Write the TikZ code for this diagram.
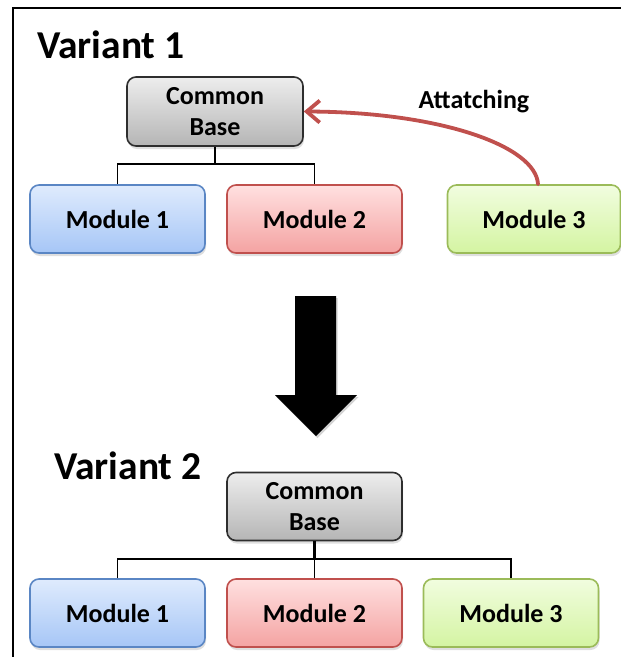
\documentclass[tikz,border=0pt]{standalone}
\usepackage{fontspec}
\setmainfont{Carlito}
\usetikzlibrary{arrows.meta,shadows,calc}

\definecolor{baseTop}{HTML}{EDEDED}
\definecolor{baseBot}{HTML}{B5B5B5}
\definecolor{baseLine}{HTML}{2E2E2E}
\definecolor{blueTop}{HTML}{DFEBFD}
\definecolor{blueBot}{HTML}{A6C6F6}
\definecolor{blueLine}{HTML}{5A86C4}
\definecolor{redTop}{HTML}{FFE0E0}
\definecolor{redBot}{HTML}{F4A3A2}
\definecolor{redLine}{HTML}{C0504D}
\definecolor{greenTop}{HTML}{F1FDDF}
\definecolor{greenBot}{HTML}{D4F4A2}
\definecolor{greenLine}{HTML}{9BBB59}
\definecolor{attach}{HTML}{C0504D}

\tikzset{
  boxbase/.style={rounded corners=9pt, minimum width=175pt, minimum height=68pt,
    line width=1.6pt, align=center, inner sep=0pt,
    font=\fontsize{26}{31}\selectfont\bfseries,
    drop shadow={shadow xshift=1pt, shadow yshift=-3pt, opacity=0.25}},
  commonbox/.style={boxbase, draw=baseLine, top color=baseTop, bottom color=baseBot},
  bluebox/.style={boxbase, draw=blueLine, top color=blueTop, bottom color=blueBot},
  redbox/.style={boxbase, draw=redLine, top color=redTop, bottom color=redBot},
  greenbox/.style={boxbase, draw=greenLine, top color=greenTop, bottom color=greenBot},
  title/.style={anchor=base west, inner sep=0pt, font=\fontsize{39.5}{46}\selectfont\bfseries},
  tree/.style={line width=1.4pt, black},
}

\begin{document}
\begin{tikzpicture}[x=1pt, y=-1pt]
  \useasboundingbox (0,0) rectangle (621,657);
  % frame
  \draw[line width=2pt] (12.5,657) -- (12.5,8) -- (621,8);

  % ---- Variant 1 ----
  \node[title] (t1) at (37,58) {Variant 1};
  \node[commonbox, minimum width=176pt, minimum height=69pt] (cb1) at (215,111.5) {Common\\Base};
  \node[bluebox]  (m11) at (117.5,219) {Module 1};
  \node[redbox]   (m12) at (314.5,219) {Module 2};
  \node[greenbox, minimum width=173pt] (m13) at (534,219) {Module 3};
  \coordinate (j1) at (215,164);
  \draw[tree] (cb1.south) -- (j1);
  \draw[tree] (m11.north) |- (j1) -| (m12.north);

  % attaching arrow
  \draw[attach, line width=3.8pt, line cap=round,
        -{Straight Barb[length=13pt, width=22pt, line width=3.8pt]}]
    (m13.north -| 538,0) .. controls (536,146) and (440,112) .. (cb1.east);
  \node[inner sep=0pt, anchor=base, font=\fontsize{26}{31}\selectfont\bfseries] (lbl) at (474,108) {Attatching};

  % ---- transition arrow ----
  \fill[black, drop shadow={shadow xshift=1.5pt, shadow yshift=-2pt, opacity=0.35}]
    (295,296) -- (336,296) -- (336,395) -- (357,395) -- (316,436) -- (275,395) -- (295,395) -- cycle;

  % ---- Variant 2 ----
  \node[title] (t2) at (54,479) {Variant 2};
  \node[commonbox] (cb2) at (314.5,506.5) {Common\\Base};
  \node[bluebox]  (m21) at (117.5,613) {Module 1};
  \node[redbox]   (m22) at (314.5,613) {Module 2};
  \node[greenbox] (m23) at (511,613) {Module 3};
  \coordinate (j2) at (314.5,559);
  \draw[line width=2.6pt] (cb2.south) -- (j2);
  \draw[tree] (m21.north) |- (j2) -| (m23.north);
  \draw[tree] (j2) -- (m22.north);
\end{tikzpicture}
\end{document}
